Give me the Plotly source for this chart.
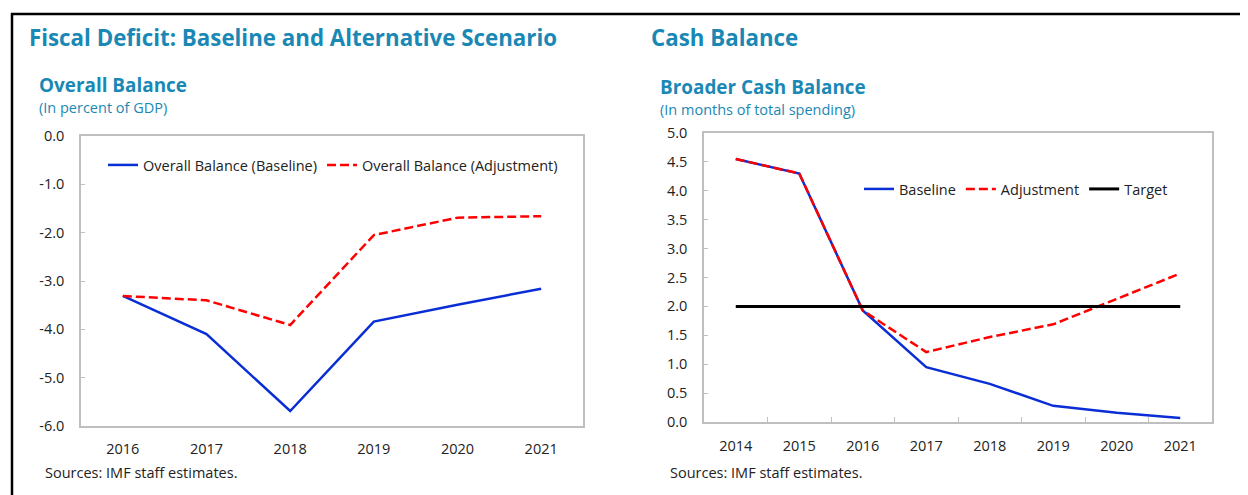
import plotly.graph_objects as go

# The page body adds an 8px margin, so the figure is sized to fit
# and all page positions are shifted by that offset.
OFF = 8
W, H = 1248 - OFF, 495 - OFF

# ---- data ----
years_left = ["2016", "2017", "2018", "2019", "2020", "2021"]
overall_baseline = [-3.31, -4.10, -5.69, -3.84, -3.49, -3.16]
overall_adjustment = [-3.31, -3.40, -3.91, -2.05, -1.69, -1.66]

years_right = ["2014", "2015", "2016", "2017", "2018", "2019", "2020", "2021"]
cash_baseline = [4.55, 4.30, 1.93, 0.95, 0.66, 0.28, 0.16, 0.07]
cash_adjustment = [4.55, 4.30, 1.93, 1.21, 1.47, 1.69, 2.13, 2.57]
cash_target = [2.0, 2.0, 2.0, 2.0, 2.0, 2.0, 2.0, 2.0]

left_yticks = [0, -1, -2, -3, -4, -5, -6]
right_yticks = [0, 0.5, 1, 1.5, 2, 2.5, 3, 3.5, 4, 4.5, 5]

FONT = "Open Sans"
TITLE_COLOR = "#1a88b5"
TEXT_COLOR = "#222222"
AXIS_COLOR = "#bfbfbf"
BLUE = "#0a2ed6"
RED = "#ff0000"
DASH = "9px,4px"
BODY = 14.5


def px(x):
    return (x - OFF) / W


def py(y):
    return 1 - (y - OFF) / H


fig = go.Figure()

# left chart
fig.add_trace(go.Scatter(x=years_left, y=overall_baseline, mode="lines",
                         name="Overall Balance (Baseline)",
                         line=dict(color=BLUE, width=2.5),
                         xaxis="x", yaxis="y", legend="legend"))
fig.add_trace(go.Scatter(x=years_left, y=overall_adjustment, mode="lines",
                         name="Overall Balance (Adjustment)",
                         line=dict(color=RED, width=2.5, dash=DASH),
                         xaxis="x", yaxis="y", legend="legend"))

# right chart
fig.add_trace(go.Scatter(x=years_right, y=cash_baseline, mode="lines",
                         name="Baseline",
                         line=dict(color=BLUE, width=2.5),
                         xaxis="x2", yaxis="y2", legend="legend2"))
fig.add_trace(go.Scatter(x=years_right, y=cash_adjustment, mode="lines",
                         name="Adjustment",
                         line=dict(color=RED, width=2.5, dash=DASH),
                         xaxis="x2", yaxis="y2", legend="legend2"))
fig.add_trace(go.Scatter(x=years_right, y=cash_target, mode="lines",
                         name="Target",
                         line=dict(color="#000000", width=3),
                         xaxis="x2", yaxis="y2", legend="legend2"))

tickfont = dict(family=FONT, size=BODY, color=TEXT_COLOR)

left_dom_x = [px(81), px(583)]
left_dom_y = [py(426), py(136)]
right_dom_x = [px(704), px(1212)]
right_dom_y = [py(422), py(133)]

fig.update_layout(
    width=W, height=H,
    margin=dict(l=0, r=0, t=0, b=0, pad=0, autoexpand=False),
    paper_bgcolor="white", plot_bgcolor="white",
    font=dict(family=FONT, size=BODY, color=TEXT_COLOR),
    xaxis=dict(domain=left_dom_x, anchor="y", type="category",
               categoryorder="array", categoryarray=years_left,
               range=[-0.5, len(years_left) - 0.5], automargin=False,
               showline=True, linecolor=AXIS_COLOR, linewidth=1.5, mirror=True,
               ticks="", showgrid=False, zeroline=False, tickfont=tickfont,
               ticklabelstandoff=9),
    xaxis3=dict(overlaying="x", anchor="y", side="top", type="category",
                categoryorder="array", categoryarray=years_left,
                range=[-0.5, len(years_left) - 0.5], matches="x",
                automargin=False,
                tickson="boundaries", ticks="outside", ticklen=5,
                tickcolor=AXIS_COLOR, showticklabels=False,
                showline=False, showgrid=False, zeroline=False),
    yaxis=dict(domain=left_dom_y, anchor="x", range=[-6, 0],
               tickvals=left_yticks,
               ticktext=[f"{v:.1f}" for v in left_yticks],
               automargin=False,
               showline=True, linecolor=AXIS_COLOR, linewidth=1.5, mirror=True,
               ticks="inside", ticklen=4, tickcolor=AXIS_COLOR,
               showgrid=False, zeroline=False, tickfont=tickfont,
               ticklabelstandoff=12),
    xaxis2=dict(domain=right_dom_x, anchor="y2", type="category",
                categoryorder="array", categoryarray=years_right,
                range=[-0.5, len(years_right) - 0.5], automargin=False,
                showline=True, linecolor=AXIS_COLOR, linewidth=1.5, mirror=True,
                tickson="boundaries", ticks="inside", ticklen=5,
                tickcolor=AXIS_COLOR,
                showgrid=False, zeroline=False, tickfont=tickfont,
                ticklabelstandoff=10),
    yaxis2=dict(domain=right_dom_y, anchor="x2", range=[0, 5],
                tickvals=right_yticks,
                ticktext=[f"{v:.1f}" for v in right_yticks],
                automargin=False,
                showline=True, linecolor=AXIS_COLOR, linewidth=1.5, mirror=True,
                ticks="inside", ticklen=4, tickcolor=AXIS_COLOR,
                showgrid=False, zeroline=False, tickfont=tickfont,
                ticklabelstandoff=12),
    legend=dict(orientation="h", x=px(103), y=py(165), xanchor="left",
                yanchor="middle", bgcolor="rgba(0,0,0,0)",
                font=dict(family=FONT, size=BODY, color=TEXT_COLOR),
                itemwidth=30),
    legend2=dict(orientation="h", x=px(859), y=py(189), xanchor="left",
                 yanchor="middle", bgcolor="rgba(0,0,0,0)",
                 font=dict(family=FONT, size=BODY, color=TEXT_COLOR),
                 itemwidth=30),
    showlegend=True,
)

annotations = [
    dict(text="<b>Fiscal Deficit: Baseline and Alternative Scenario</b>",
         x=px(27), y=py(37), font=dict(size=22.3, color=TITLE_COLOR)),
    dict(text="<b>Overall Balance</b>", x=px(37), y=py(85),
         font=dict(size=18.9, color=TITLE_COLOR)),
    dict(text="(In percent of GDP)", x=px(37), y=py(108),
         font=dict(size=14.5, color=TITLE_COLOR)),
    dict(text="Sources: IMF staff estimates.", x=px(43), y=py(472),
         font=dict(size=BODY, color=TEXT_COLOR)),
    dict(text="<b>Cash Balance</b>", x=px(649), y=py(37),
         font=dict(size=22.3, color=TITLE_COLOR)),
    dict(text="<b>Broader Cash Balance</b>", x=px(658), y=py(87),
         font=dict(size=18.9, color=TITLE_COLOR)),
    dict(text="(In months of total spending)", x=px(658), y=py(109),
         font=dict(size=14.5, color=TITLE_COLOR)),
    dict(text="Sources: IMF staff estimates.", x=px(668), y=py(472),
         font=dict(size=BODY, color=TEXT_COLOR)),
]
for a in annotations:
    fig.add_annotation(xref="paper", yref="paper", xanchor="left",
                       yanchor="middle", showarrow=False,
                       font_family=FONT, **{k: v for k, v in a.items()})

# frame lines
fig.add_shape(type="line", xref="paper", yref="paper",
              x0=px(11), x1=1, y0=py(14), y1=py(14),
              line=dict(color="black", width=2.5))
fig.add_shape(type="line", xref="paper", yref="paper",
              x0=px(12), x1=px(12), y0=py(13), y1=0,
              line=dict(color="black", width=2.5))

fig.write_html("out.html")
